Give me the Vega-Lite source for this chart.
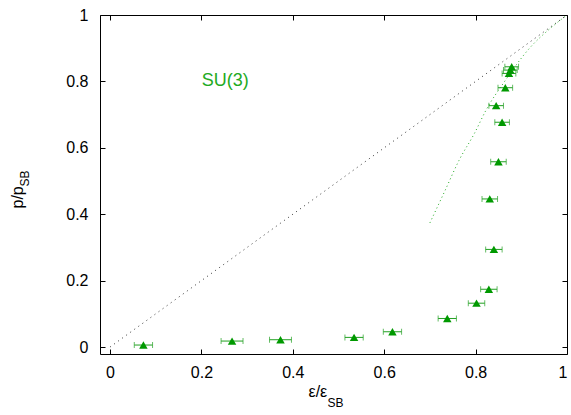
{
  "$schema": "https://vega.github.io/schema/vega-lite/v6.json",
  "width": 467,
  "height": 339,
  "autosize": {"type": "none"},
  "padding": {"left": 100, "top": 15, "right": 4, "bottom": 61},
  "background": "white",
  "config": {
    "view": {"stroke": "black", "strokeWidth": 1},
    "font": "Liberation Sans",
    "axis": {"grid": false, "domain": false, "tickColor": "black", "tickSize": -5, "tickWidth": 1,
             "labelFont": "Liberation Sans", "labelFontSize": 16, "labelColor": "black",
             "titleFont": "Liberation Sans", "titleColor": "black", "titleFontWeight": "normal"}
  },
  "datasets": {
    "pts": [
      {"x": 0.073, "y": 0.006, "xlo": 0.053, "xhi": 0.093},
      {"x": 0.267, "y": 0.018, "xlo": 0.243, "xhi": 0.291},
      {"x": 0.373, "y": 0.022, "xlo": 0.349, "xhi": 0.397},
      {"x": 0.534, "y": 0.029, "xlo": 0.514, "xhi": 0.554},
      {"x": 0.618, "y": 0.046, "xlo": 0.598, "xhi": 0.638},
      {"x": 0.738, "y": 0.086, "xlo": 0.718, "xhi": 0.758},
      {"x": 0.802, "y": 0.132, "xlo": 0.784, "xhi": 0.820},
      {"x": 0.829, "y": 0.174, "xlo": 0.811, "xhi": 0.847},
      {"x": 0.840, "y": 0.294, "xlo": 0.822, "xhi": 0.858},
      {"x": 0.831, "y": 0.446, "xlo": 0.814, "xhi": 0.848},
      {"x": 0.850, "y": 0.558, "xlo": 0.833, "xhi": 0.867},
      {"x": 0.858, "y": 0.677, "xlo": 0.842, "xhi": 0.874},
      {"x": 0.845, "y": 0.727, "xlo": 0.829, "xhi": 0.861},
      {"x": 0.865, "y": 0.781, "xlo": 0.849, "xhi": 0.881},
      {"x": 0.873, "y": 0.824, "xlo": 0.858, "xhi": 0.888},
      {"x": 0.876, "y": 0.834, "xlo": 0.861, "xhi": 0.891},
      {"x": 0.879, "y": 0.844, "xlo": 0.864, "xhi": 0.894}
    ],
    "diag": [{"x": 0, "y": 0}, {"x": 1, "y": 1}],
    "curve": [
      {"x": 0.700, "y": 0.374},
      {"x": 0.732, "y": 0.468},
      {"x": 0.764, "y": 0.563},
      {"x": 0.798, "y": 0.645},
      {"x": 0.823, "y": 0.714},
      {"x": 0.863, "y": 0.799},
      {"x": 0.918, "y": 0.900},
      {"x": 0.968, "y": 0.965},
      {"x": 1.0, "y": 1.0}
    ],
    "label": [{"x": 0.252, "y": 0.80, "text": "SU(3)"}]
  },
  "resolve": {"axis": {"x": "independent", "y": "independent"}},
  "layer": [
    {
      "data": {"name": "diag"},
      "mark": {"type": "line", "color": "#333333", "strokeWidth": 1, "strokeDash": [1, 4]},
      "encoding": {
        "x": {"field": "x", "type": "quantitative",
              "scale": {"domain": [-0.022, 1], "nice": false, "zero": false},
              "axis": {"orient": "bottom", "values": [0, 0.2, 0.4, 0.6, 0.8, 1], "format": "~g", "labelPadding": 15,
                       "title": "ε/ε", "titleFontSize": 16, "titleAlign": "left", "titleAnchor": null, "titleBaseline": "alphabetic",
                       "titleX": 208, "titleY": 42, "titleAngle": 0}},
        "y": {"field": "y", "type": "quantitative",
              "scale": {"domain": [-0.021, 1], "nice": false, "zero": false},
              "axis": {"orient": "left", "values": [0, 0.2, 0.4, 0.6, 0.8, 1], "format": "~g", "labelPadding": 17,
                       "title": "p/p", "titleFontSize": 16, "titleAngle": -90, "titleAlign": "left", "titleBaseline": "alphabetic",
                       "titleX": -78, "titleY": 193}}
      }
    },
    {
      "data": {"name": "curve"},
      "mark": {"type": "line", "color": "#22aa22", "strokeWidth": 1, "strokeDash": [1, 3], "interpolate": "monotone"},
      "encoding": {
        "x": {"field": "x", "type": "quantitative",
              "axis": {"orient": "top", "values": [0, 0.2, 0.4, 0.6, 0.8, 1], "labels": false,
                       "title": "SB", "titleFontSize": 12, "titleAlign": "left", "titleAnchor": null, "titleBaseline": "alphabetic",
                       "titleX": 227, "titleY": 391, "titleAngle": 0}},
        "y": {"field": "y", "type": "quantitative",
              "axis": {"orient": "right", "values": [0, 0.2, 0.4, 0.6, 0.8, 1], "labels": false,
                       "title": "SB", "titleFontSize": 12, "titleAngle": -90, "titleAlign": "left", "titleBaseline": "alphabetic",
                       "titleX": -539, "titleY": 171}}
      }
    },
    {
      "data": {"name": "pts"},
      "mark": {"type": "rule", "color": "#22a022", "strokeWidth": 1},
      "encoding": {
        "x": {"field": "xlo", "type": "quantitative", "axis": null},
        "x2": {"field": "xhi"},
        "y": {"field": "y", "type": "quantitative", "axis": null}
      }
    },
    {
      "data": {"name": "pts"},
      "mark": {"type": "tick", "orient": "vertical", "color": "#22a022", "size": 6, "thickness": 1},
      "encoding": {
        "x": {"field": "xlo", "type": "quantitative", "axis": null},
        "y": {"field": "y", "type": "quantitative", "axis": null}
      }
    },
    {
      "data": {"name": "pts"},
      "mark": {"type": "tick", "orient": "vertical", "color": "#22a022", "size": 6, "thickness": 1},
      "encoding": {
        "x": {"field": "xhi", "type": "quantitative", "axis": null},
        "y": {"field": "y", "type": "quantitative", "axis": null}
      }
    },
    {
      "data": {"name": "pts"},
      "mark": {"type": "point", "shape": "triangle-up", "filled": true, "color": "#009900", "opacity": 1, "size": 72},
      "encoding": {
        "x": {"field": "x", "type": "quantitative", "axis": null},
        "y": {"field": "y", "type": "quantitative", "axis": null}
      }
    },
    {
      "data": {"name": "label"},
      "mark": {"type": "text", "color": "#22aa22", "fontSize": 18, "font": "Liberation Sans", "align": "center", "baseline": "middle"},
      "encoding": {
        "x": {"field": "x", "type": "quantitative", "axis": null},
        "y": {"field": "y", "type": "quantitative", "axis": null},
        "text": {"field": "text"}
      }
    }
  ]
}
